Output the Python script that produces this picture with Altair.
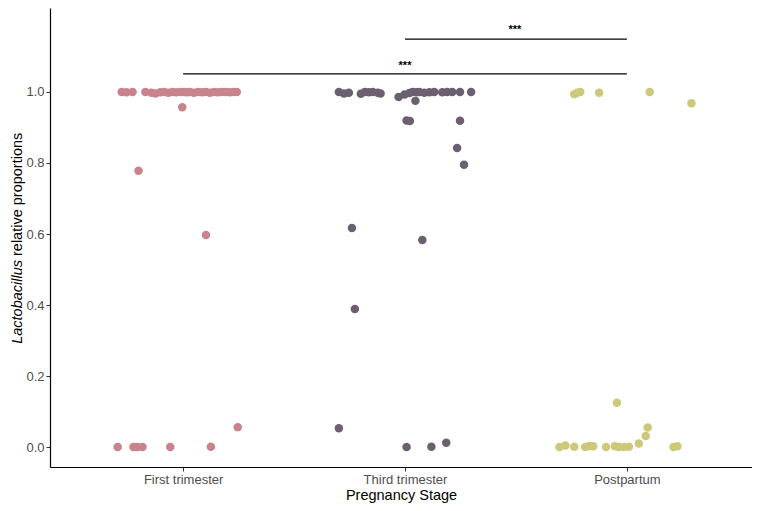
import altair as alt
import pandas as pd

stages = ["First trimester", "Third trimester", "Postpartum"]
colors = ["#C9838D", "#6C6070", "#CDC97A"]

# horizontal jitter (fraction of category spacing) and Lactobacillus proportions
first_jitter = [-0.277, -0.255, -0.228, -0.170, -0.143, -0.125, -0.103, -0.085, -0.067,
                -0.049, -0.031, -0.013, 0.004, 0.018, 0.031, 0.049, 0.067, 0.085, 0.103,
                0.121, 0.139, 0.157, 0.174, 0.192, 0.210, 0.228, 0.242,
                -0.004, -0.201, 0.103, 0.246,
                -0.295, -0.224, -0.206, -0.183, -0.058, 0.125]
first_values = [1.0, 0.999, 1.0, 1.0, 0.998, 0.996, 0.999, 1.0, 0.998,
                1.0, 0.999, 1.0, 1.0, 0.999, 1.0, 0.998, 1.0, 0.999, 1.0,
                0.998, 1.0, 0.999, 1.0, 1.0, 0.999, 1.0, 1.0,
                0.957, 0.778, 0.597, 0.056,
                0.0, 0.0, 0.0, 0.0, 0.0, 0.001]

third_jitter = [-0.298, -0.275, -0.253, -0.199, -0.181, -0.163, -0.145, -0.123, -0.110,
                -0.029, -0.002, 0.020, 0.034, 0.051, 0.065, 0.087, 0.110, 0.132, 0.168,
                0.190, 0.213, 0.248, 0.298, 0.047,
                0.007, 0.022, 0.248, 0.235, 0.266, -0.239, -0.226, 0.078,
                -0.298, 0.007, 0.119, 0.186]
third_values = [1.0, 0.996, 0.998, 0.995, 1.0, 0.999, 1.0, 0.998, 0.996,
                0.986, 0.993, 0.997, 1.0, 0.999, 1.0, 0.998, 0.999, 1.0, 0.999,
                1.0, 1.0, 1.0, 1.0, 0.975,
                0.920, 0.918, 0.919, 0.842, 0.795, 0.617, 0.389, 0.583,
                0.053, 0.0, 0.001, 0.012]

post_jitter = [-0.237, -0.224, -0.210, -0.125, 0.103, 0.291,
               -0.045, 0.094, 0.085, 0.054,
               -0.304, -0.277, -0.237, -0.188, -0.170, -0.152, -0.094, -0.054,
               -0.036, -0.013, 0.009, 0.210, 0.228]
post_values = [0.994, 0.998, 1.0, 0.998, 1.0, 0.968,
               0.125, 0.055, 0.031, 0.010,
               0.0, 0.004, 0.001, 0.0, 0.003, 0.002, 0.0, 0.002,
               0.0, 0.0, 0.001, 0.0, 0.002]

# significance brackets
bracket_start = [1, 2]
bracket_end = [3, 3]
bracket_y = [1.051, 1.149]
star_x = [2.0, 2.495]
star_y = [1.066, 1.167]
star_text = ["***", "***"]

rows = []
for i, (st, jit, vals) in enumerate(zip(stages, [first_jitter, third_jitter, post_jitter],
                                        [first_values, third_values, post_values])):
    for j, v in zip(jit, vals):
        rows.append({"stage": st, "xpos": i + 1 + j, "value": v})
df = pd.DataFrame(rows)

xscale = alt.Scale(domain=[0.4, 3.564], nice=False, zero=False)
yscale = alt.Scale(domain=[-0.0563, 1.2366], nice=False, zero=False)

label_expr = "datum.value == 1 ? '%s' : datum.value == 2 ? '%s' : '%s'" % tuple(stages)

points = alt.Chart(df).mark_circle(size=72, opacity=1).encode(
    x=alt.X("xpos:Q", scale=xscale,
            axis=alt.Axis(values=[1, 2, 3], labelExpr=label_expr, title="Pregnancy Stage",
                          grid=False, titlePadding=2)),
    y=alt.Y("value:Q", scale=yscale,
            axis=alt.Axis(values=[0, 0.2, 0.4, 0.6, 0.8, 1.0], format=".1f", title=None,
                          grid=False)),
    color=alt.Color("stage:N", scale=alt.Scale(domain=stages, range=colors), legend=None),
)

br_df = pd.DataFrame({"x": bracket_start, "x2": bracket_end, "y": bracket_y})
rules = alt.Chart(br_df).mark_rule(color="black", strokeWidth=1.3).encode(
    x=alt.X("x:Q", scale=xscale), x2="x2:Q", y=alt.Y("y:Q", scale=yscale)
)

st_df = pd.DataFrame({"x": star_x, "y": star_y, "t": star_text})
stars = alt.Chart(st_df).mark_text(fontSize=11, font="Liberation Sans", fontWeight="bold",
                                   color="black", baseline="alphabetic").encode(
    x=alt.X("x:Q", scale=xscale), y=alt.Y("y:Q", scale=yscale), text="t:N"
)

yt1 = alt.Chart(pd.DataFrame({"t": ["Lactobacillus"]})).mark_text(
    angle=270, align="right", baseline="middle", fontStyle="italic", fontSize=14.5,
    font="Liberation Sans", color="black").encode(
    text="t:N", x=alt.value(-32), y=alt.value(252))
yt2 = alt.Chart(pd.DataFrame({"t": ["relative proportions"]})).mark_text(
    angle=270, align="left", baseline="middle", fontSize=14.5,
    font="Liberation Sans", color="black").encode(
    text="t:N", x=alt.value(-32), y=alt.value(248))

chart = alt.layer(points, rules, stars, yt1, yt2).properties(
    width=702, height=459,
    autosize=alt.AutoSizeParams(type="none"),
    padding={"left": 42, "right": 0, "top": 0, "bottom": 36},
    background="white",
).configure_view(stroke=None).configure_axis(
    domainColor="black", domainWidth=1.2, tickColor="#333333", tickSize=4,
    labelColor="#4d4d4d", labelFont="Liberation Sans", labelFontSize=13, labelPadding=2,
    titleFont="Liberation Sans", titleFontSize=14.5, titleFontWeight="normal",
    titleColor="black",
)

chart.save("out.html", embed_options={"renderer": "svg", "actions": False})
